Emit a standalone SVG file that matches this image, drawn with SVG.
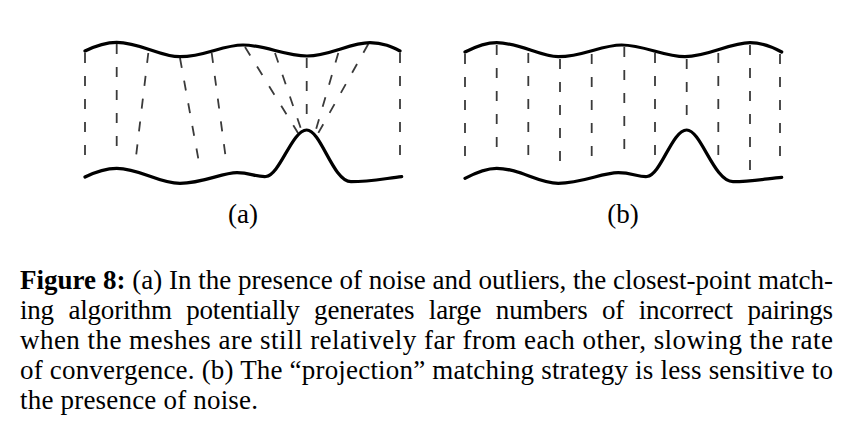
<svg xmlns="http://www.w3.org/2000/svg" width="852" height="435" viewBox="0 0 852 435">
<style>
.mesh{fill:none;stroke:#000;stroke-width:3.2;stroke-linecap:round}
.pair{stroke:#3a3a3a;stroke-width:1.8;stroke-dasharray:10 13;fill:none}
.lbl{font-family:"Liberation Serif","Times New Roman",serif;font-size:27px;fill:#000}
.cap{font-family:"Liberation Serif","Times New Roman",serif;font-size:27px;fill:#000}
</style>
<rect width="852" height="435" fill="#fff"/>
<g id="panel-a">
  <g id="a-connectors">
    <line class="pair" x1="85" y1="53" x2="85" y2="167"/>
    <line class="pair" x1="116.7" y1="44" x2="116.7" y2="158"/>
    <line class="pair" x1="148.3" y1="53" x2="135" y2="165"/>
    <line class="pair" x1="180" y1="58" x2="200" y2="168"/>
    <line class="pair" x1="211.7" y1="53" x2="226.7" y2="165"/>
    <line class="pair" x1="245" y1="47" x2="298" y2="133"/>
    <line class="pair" x1="275" y1="53" x2="301.7" y2="131"/>
    <line class="pair" x1="306.7" y1="58" x2="306.7" y2="127"/>
    <line class="pair" x1="338.3" y1="53" x2="315" y2="133"/>
    <line class="pair" x1="368.3" y1="44" x2="318.3" y2="133"/>
    <line class="pair" x1="400" y1="53" x2="400" y2="165"/>
  </g>
  <g id="a-top-mesh"><path class="mesh" d="M85,51 C95,46 105,42.3 116.7,42.3 C140,42.3 160,56.7 180,56.7 C205,56.7 222,45 243,45 C265,45 285,56 307,56 C330,56 350,42.7 370,42.7 C383,42.7 392,47 400,51"/></g>
  <g id="a-bottom-mesh"><path class="mesh" d="M85,177 C95,172 105,168.3 116.7,168.3 C140,168.3 158,183.3 180,183.3 C203,183.3 222,172.7 237,172.7 C250,172.7 256,177 266,176.5 C280,175 292,130 306.7,130 C321,130 333,181.7 351,181.7 C370,181.7 388,178 401.7,176.7"/></g>
  <g id="label-a"><text class="lbl" x="243" y="223" text-anchor="middle">(a)</text></g>
</g>
<g id="panel-b">
  <g id="b-connectors">
    <line class="pair" x1="465" y1="54" x2="465" y2="165"/>
    <line class="pair" x1="496.7" y1="45" x2="496.7" y2="157"/>
    <line class="pair" x1="528.3" y1="53" x2="528.3" y2="165"/>
    <line class="pair" x1="560" y1="59" x2="560" y2="170"/>
    <line class="pair" x1="591.7" y1="54" x2="591.7" y2="167"/>
    <line class="pair" x1="624.3" y1="47" x2="624.3" y2="160"/>
    <line class="pair" x1="655" y1="53" x2="655" y2="163"/>
    <line class="pair" x1="686.7" y1="59" x2="686.7" y2="118"/>
    <line class="pair" x1="718.3" y1="53" x2="718.3" y2="165"/>
    <line class="pair" x1="750" y1="45" x2="750" y2="180"/>
    <line class="pair" x1="780" y1="54" x2="780" y2="163"/>
  </g>
  <g id="b-top-mesh"><path class="mesh" d="M465,52 C475,47 485,42.7 496.7,42.7 C520,42.7 540,56.7 558.3,56.7 C583,56.7 601,45 621.7,45 C644,45 664,56.7 685,56.7 C708,56.7 730,42.7 750,42.7 C763,42.7 773,47 781.7,52"/></g>
  <g id="b-bottom-mesh"><path class="mesh" d="M465,178.3 C475,173 485,168.3 496.7,168.3 C520,168.3 538,183.3 558.3,183.3 C582,183.3 602,172.7 618.3,172.7 C632,172.7 638,177 647,176.5 C661,175 672,130 686.7,130 C701,130 714,181.7 733,181.7 C752,181.7 768,178.5 781.7,177.3"/></g>
  <g id="label-b"><text class="lbl" x="623" y="223" text-anchor="middle">(b)</text></g>
</g>
<g id="caption" class="cap">
  <text x="20" y="289" textLength="813" lengthAdjust="spacing"><tspan font-weight="bold">Figure 8:</tspan> (a) In the presence of noise and outliers, the closest-point match-</text>
  <text x="20" y="319" textLength="813" lengthAdjust="spacing" word-spacing="8">ing algorithm potentially generates large numbers of incorrect pairings</text>
  <text x="20" y="349" textLength="813" lengthAdjust="spacing">when the meshes are still relatively far from each other, slowing the rate</text>
  <text x="20" y="379" textLength="813" lengthAdjust="spacing">of convergence. (b) The “projection” matching strategy is less sensitive to</text>
  <text x="20" y="409" textLength="238" lengthAdjust="spacing">the presence of noise.</text>
</g>
</svg>
